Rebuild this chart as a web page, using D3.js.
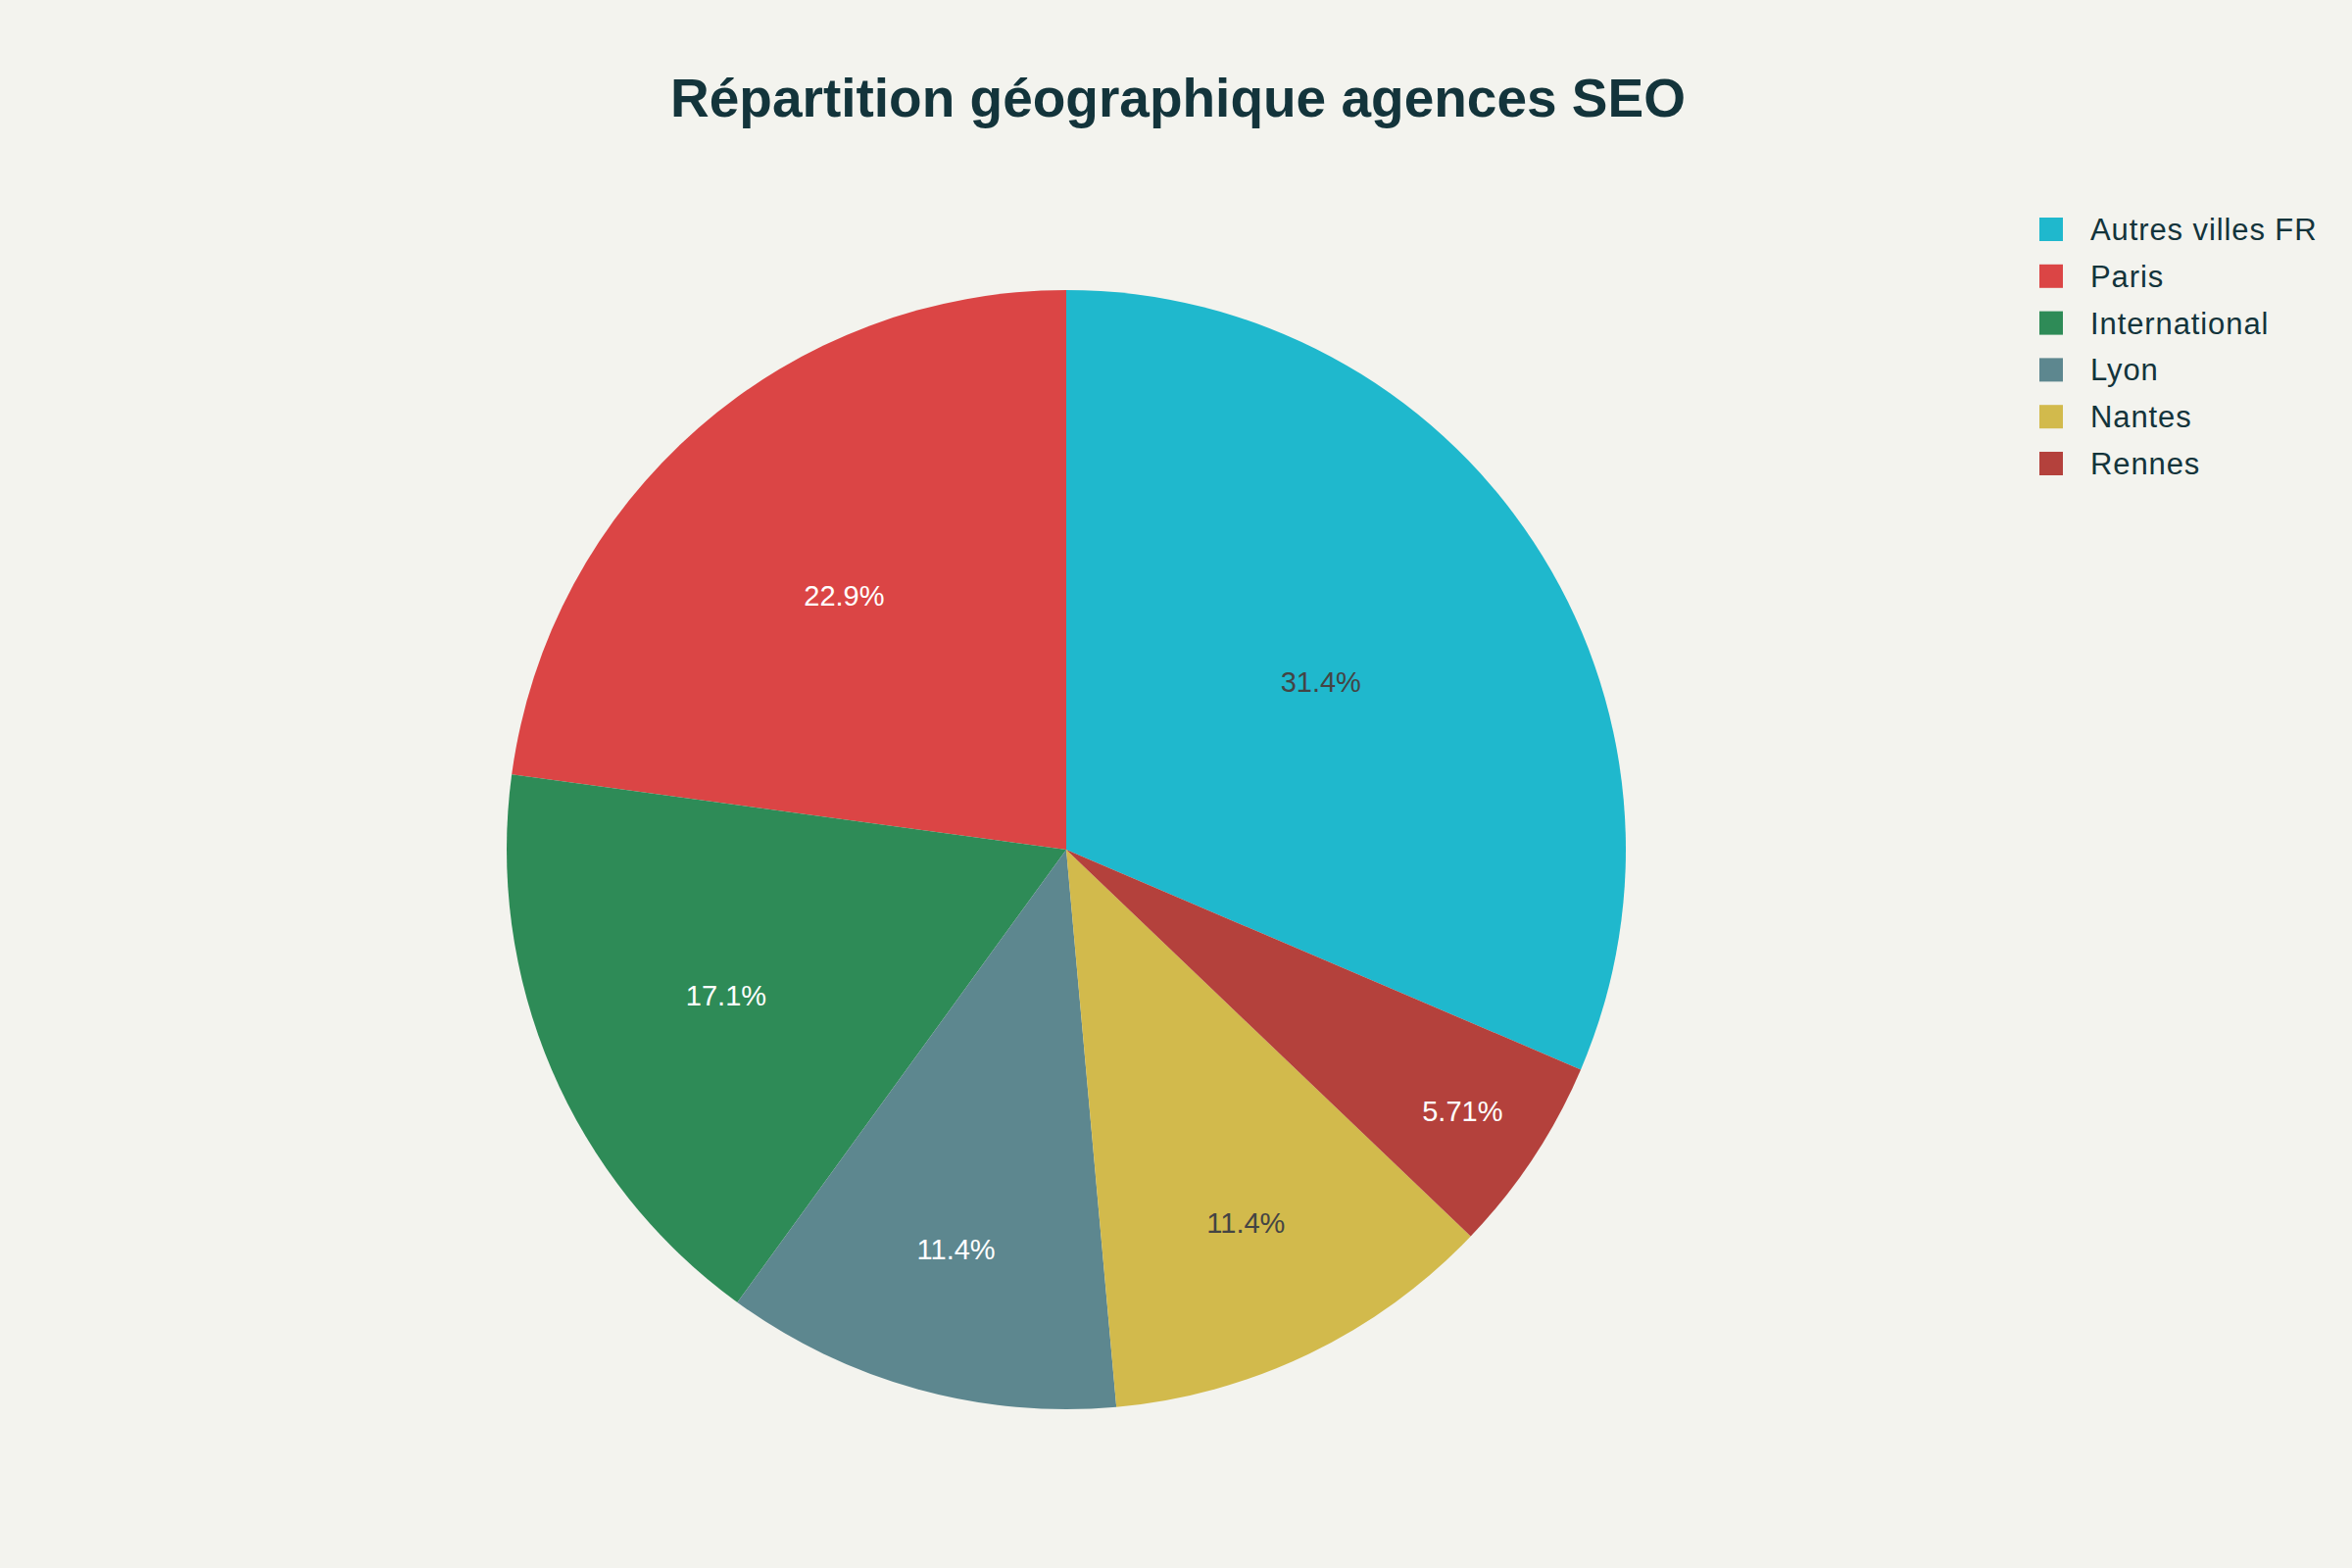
<!DOCTYPE html>
<html lang="fr">
<head>
  <meta charset="utf-8">
  <title>Répartition géographique agences SEO</title>
  <script src="https://d3js.org/d3.v7.min.js"></script>
  <style>
    body { margin: 0; background: #f3f3ee; }
    text { font-family: "Liberation Sans", Arial, sans-serif; }
  </style>
</head>
<body>
  <div id="chart"></div>

<script>
  // data
  var categories = ["Autres villes FR", "Paris", "International", "Lyon", "Nantes", "Rennes"];
  var counts = [11, 8, 6, 4, 4, 2];
  var colors = ["#1FB8CD", "#DB4545", "#2E8B57", "#5D878F", "#D2BA4C", "#B4413C"];
  var chartTitle = "Répartition géographique agences SEO";

  var width = 2400, height = 1600;
  var cx = 1088, cy = 867, radius = 571;

  var svg = d3.select("#chart")
    .append("svg")
    .attr("width", width)
    .attr("height", height)
    .style("display", "block");

  svg.append("rect")
    .attr("width", width)
    .attr("height", height)
    .attr("fill", "#f3f3ee");

  // title
  svg.append("text")
    .attr("x", 1202)
    .attr("y", 119)
    .attr("text-anchor", "middle")
    .attr("font-size", 55)
    .attr("font-weight", "bold")
    .attr("fill", "#13343B")
    .text(chartTitle);

  var total = d3.sum(counts);
  var rows = categories.map(function(c, i) {
    return { name: c, value: counts[i], color: colors[i] };
  });

  // first slice ends at 12 o'clock, the rest go counterclockwise
  var start = 2 * Math.PI * counts[0] / total;
  var pie = d3.pie()
    .sort(null)
    .value(function(d) { return d.value; })
    .startAngle(start)
    .endAngle(start - 2 * Math.PI);

  var arc = d3.arc().innerRadius(0).outerRadius(radius);
  var arcs = pie(rows);

  var g = svg.append("g")
    .attr("transform", "translate(" + cx + "," + cy + ")");

  g.selectAll("path")
    .data(arcs)
    .enter()
    .append("path")
    .attr("d", arc)
    .attr("fill", function(d) { return d.data.color; });

  // labels placed like plotly's inscribed-circle rule
  var fmt = d3.format(".3r");
  function isLight(col) {
    var c = d3.rgb(col);
    return (c.r * 299 + c.g * 587 + c.b * 114) / 1000 > 128;
  }

  g.selectAll("text.lbl")
    .data(arcs)
    .enter()
    .append("text")
    .attr("class", "lbl")
    .attr("transform", function(d) {
      var half = Math.PI * Math.min(d.data.value / total, 0.5);
      var rIns = Math.min(1 / (1 + 1 / Math.sin(half)), 0.5);
      var rc = (1 - rIns) * radius;
      var mid = (d.startAngle + d.endAngle) / 2;
      return "translate(" + (Math.sin(mid) * rc) + "," + (-Math.cos(mid) * rc) + ")";
    })
    .attr("dy", "0.36em")
    .attr("text-anchor", "middle")
    .attr("font-size", 29)
    .attr("fill", function(d) { return isLight(d.data.color) ? "#444" : "#fff"; })
    .text(function(d) { return fmt(d.data.value / total * 100) + "%"; });

  // legend
  var legend = svg.append("g")
    .attr("transform", "translate(2081,222)");

  var item = legend.selectAll("g")
    .data(rows)
    .enter()
    .append("g")
    .attr("transform", function(d, i) { return "translate(0," + (i * 47.8) + ")"; });

  item.append("rect")
    .attr("width", 24)
    .attr("height", 24)
    .attr("fill", function(d) { return d.color; });

  item.append("text")
    .attr("x", 52)
    .attr("y", 23)
    .attr("font-size", 31)
    .attr("letter-spacing", 0.9)
    .attr("fill", "#13343B")
    .text(function(d) { return d.name; });
</script>
</body>
</html>
